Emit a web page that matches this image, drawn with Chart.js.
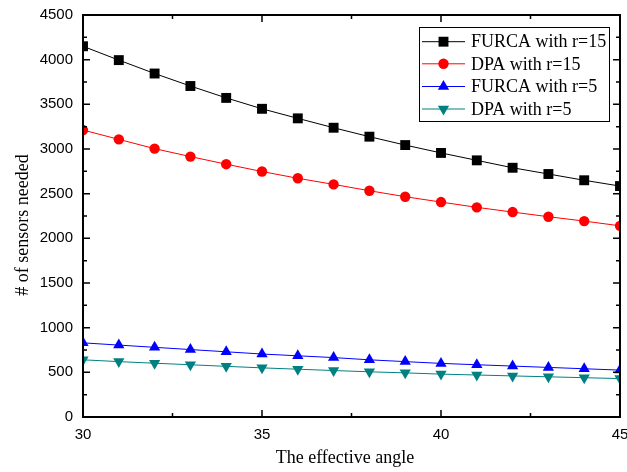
<!DOCTYPE html>
<html>
<head>
<meta charset="utf-8">
<script src="https://cdn.jsdelivr.net/npm/chart.js@4.4.1/dist/chart.umd.min.js"></script>
<style>
  html, body { margin: 0; padding: 0; background: #ffffff; }
  #wrap { width: 627px; height: 472px; position: relative; }
</style>
</head>
<body>
<div id="wrap"><canvas id="c" width="627" height="472"></canvas></div>
<script>
// ---- data ----
const angles   = [30, 31, 32, 33, 34, 35, 36, 37, 38, 39, 40, 41, 42, 43, 44, 45];
const furca15  = [4150, 3995, 3845, 3705, 3572, 3450, 3343, 3238, 3138, 3044, 2956, 2873, 2790, 2720, 2650, 2585];
const dpa15    = [3212, 3108, 3004, 2915, 2830, 2748, 2672, 2604, 2533, 2466, 2406, 2347, 2294, 2242, 2193, 2140];
const furca5   = [830, 805, 780, 755, 730, 705, 685, 665, 640, 620, 600, 585, 570, 555, 540, 525];
const dpa5     = [640, 620, 602, 585, 567, 550, 535, 520, 506, 494, 480, 470, 460, 450, 440, 430];
const seriesNames = ["FURCA with r=15", "DPA with r=15", "FURCA with r=5", "DPA with r=5"];
const xTickValues = [30, 35, 40, 45];
const yTickValues = [0, 500, 1000, 1500, 2000, 2500, 3000, 3500, 4000, 4500];
const xTitle = "The effective angle";
const yTitle = "# of sensors needed";

const pts = arr => arr.map((v, i) => ({ x: angles[i], y: v }));

const styles = [
  { color: '#000000', point: 'rect', radius: 7, rotation: 0 },
  { color: '#ff0000', point: 'circle', radius: 5.2, rotation: 0 },
  { color: '#0000ff', point: 'triangle', radius: 6.5, rotation: 0 },
  { color: '#008080', point: 'triangle', radius: 6.5, rotation: 180 }
];
const values = [furca15, dpa15, furca5, dpa5];

const datasets = values.map((v, i) => ({
  label: seriesNames[i],
  data: pts(v),
  borderColor: styles[i].color,
  backgroundColor: styles[i].color,
  borderWidth: 1,
  pointStyle: styles[i].point,
  pointRadius: styles[i].radius,
  pointRotation: styles[i].rotation,
  pointBorderWidth: 0,
  pointBackgroundColor: styles[i].color,
  tension: 0,
  order: i
}));

const framePlugin = {
  id: 'frame',
  afterDatasetsDraw(chart) {
    const ctx = chart.ctx;
    const a = chart.chartArea;
    const xs = chart.scales.x, ys = chart.scales.y;
    ctx.save();
    ctx.strokeStyle = '#000';
    ctx.lineWidth = 1.5;
    for (let v = 30; v <= 45.001; v += 2.5) {
      const px = xs.getPixelForValue(v);
      const major = Math.abs(v % 5) < 1e-6;
      const len = major ? 7 : 4;
      ctx.beginPath();
      ctx.moveTo(px, a.bottom); ctx.lineTo(px, a.bottom - len);
      ctx.moveTo(px, a.top); ctx.lineTo(px, a.top + len);
      ctx.stroke();
    }
    for (let v = 0; v <= 4500.001; v += 250) {
      const py = ys.getPixelForValue(v);
      const major = Math.abs(v % 500) < 1e-6;
      const len = major ? 7 : 4;
      ctx.beginPath();
      ctx.moveTo(a.left, py); ctx.lineTo(a.left + len, py);
      ctx.moveTo(a.right, py); ctx.lineTo(a.right - len, py);
      ctx.stroke();
    }
    ctx.lineWidth = 2;
    ctx.strokeRect(a.left, a.top, a.right - a.left, a.bottom - a.top);
    ctx.restore();
  },
  afterDraw(chart) {
    const ctx = chart.ctx;
    ctx.save();
    ctx.fillStyle = '#000';
    ctx.font = '18px "Liberation Serif", "Times New Roman", serif';
    ctx.textAlign = 'center';
    ctx.textBaseline = 'middle';
    ctx.fillText(xTitle, 345, 458);
    ctx.translate(23, 225);
    ctx.rotate(-Math.PI / 2);
    ctx.fillText(yTitle, 0, 0);
    ctx.restore();

    // legend
    ctx.save();
    const bx = 419, by = 27, bw = 190, bh = 94;
    ctx.fillStyle = '#fff';
    ctx.fillRect(bx, by, bw, bh);
    ctx.strokeStyle = '#000';
    ctx.lineWidth = 1;
    ctx.strokeRect(bx + 0.5, by + 0.5, bw, bh);
    ctx.font = '18px "Liberation Serif", "Times New Roman", serif';
    ctx.textAlign = 'left';
    ctx.textBaseline = 'middle';
    const rows = [41.7, 63.8, 86.5, 109];
    chart.data.datasets.forEach((ds, i) => {
      const y = rows[i];
      ctx.strokeStyle = ds.borderColor;
      ctx.lineWidth = 1;
      ctx.beginPath();
      ctx.moveTo(422, y); ctx.lineTo(465, y);
      ctx.stroke();
      ctx.fillStyle = ds.pointBackgroundColor;
      ctx.strokeStyle = ds.pointBackgroundColor;
      Chart.helpers.drawPoint(ctx, {
        pointStyle: ds.pointStyle, rotation: ds.pointRotation, borderWidth: 0, radius: ds.pointRadius
      }, 443.5, y);
      ctx.fillStyle = '#000';
      ctx.fillText(ds.label, 471, y + 1);
    });
    ctx.restore();
  }
};

new Chart(document.getElementById('c'), {
  type: 'line',
  data: { datasets },
  options: {
    responsive: false,
    animation: false,
    devicePixelRatio: 1,
    layout: { padding: { top: 15, right: 6, left: 0, bottom: 0 } },
    plugins: { legend: { display: false }, tooltip: { enabled: false } },
    scales: {
      x: {
        type: 'linear',
        min: 30, max: 45,
        grid: { display: false, drawTicks: false },
        border: { display: false },
        afterBuildTicks(s) { s.ticks = xTickValues.map(v => ({ value: v })); },
        afterFit(s) { s.height = 55; s.paddingLeft = 0; s.paddingRight = 0; },
        ticks: {
          color: '#000',
          padding: 9,
          maxRotation: 0,
          autoSkip: false,
          callback: v => String(v),
          font: { family: '"Liberation Sans", Arial, sans-serif', size: 15 }
        }
      },
      y: {
        type: 'linear',
        min: 0, max: 4500,
        grid: { display: false, drawTicks: false },
        border: { display: false },
        afterBuildTicks(s) { s.ticks = yTickValues.map(v => ({ value: v })); },
        afterFit(s) { s.width = 83; s.paddingTop = 0; s.paddingBottom = 0; },
        ticks: {
          color: '#000',
          padding: 10,
          autoSkip: false,
          callback: v => String(v),
          font: { family: '"Liberation Sans", Arial, sans-serif', size: 15 }
        }
      }
    }
  },
  plugins: [framePlugin]
});
</script>
</body>
</html>
